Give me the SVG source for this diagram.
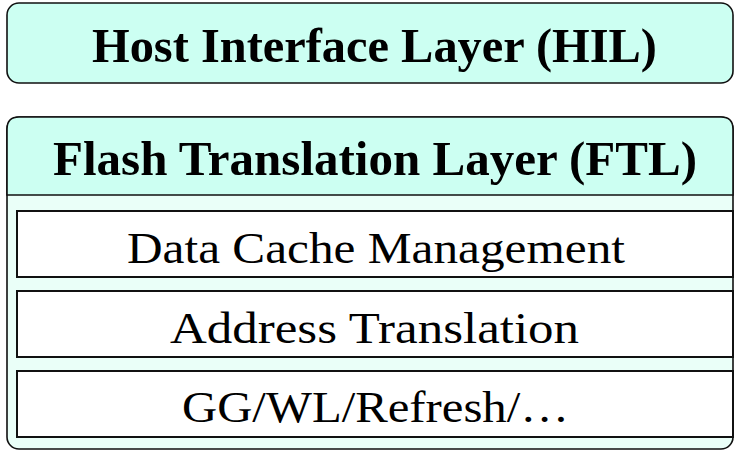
<svg xmlns="http://www.w3.org/2000/svg" width="734" height="451" viewBox="0 0 734 451">
  <style>
    .outer { stroke: #111; stroke-width: 1.6; }
    .inner { fill: #ffffff; stroke: #111; stroke-width: 2; }
    .title { font-family: "Liberation Serif", "Times New Roman", serif; font-weight: bold; font-size: 48px; fill: #000; }
    .label { font-family: "Liberation Serif", "Times New Roman", serif; font-size: 45px; fill: #000; }
  </style>
  <rect width="734" height="451" fill="#ffffff"/>
  <g id="hil">
    <rect class="outer" x="7" y="3" width="726" height="80" rx="12" ry="12" fill="#ccfff2"/>
    <text class="title" x="374.5" y="62" text-anchor="middle" textLength="565" lengthAdjust="spacingAndGlyphs">Host Interface Layer (HIL)</text>
  </g>
  <g id="ftl">
    <rect class="outer" x="7" y="117" width="726" height="332" rx="12" ry="12" fill="#eafff8"/>
    <path class="outer" d="M7,195 L7,129 Q7,117 19,117 L721,117 Q733,117 733,129 L733,195 Z" fill="#ccfff2"/>
    <text class="title" x="375" y="175" text-anchor="middle" textLength="644" lengthAdjust="spacingAndGlyphs">Flash Translation Layer (FTL)</text>
  </g>
  <g id="data-cache">
    <rect class="inner" x="17" y="211" width="716" height="66"/>
    <text class="label" x="376" y="262.5" text-anchor="middle" textLength="498" lengthAdjust="spacingAndGlyphs">Data Cache Management</text>
  </g>
  <g id="address-translation">
    <rect class="inner" x="17" y="291" width="716" height="66"/>
    <text class="label" x="374.5" y="342.5" text-anchor="middle" textLength="409" lengthAdjust="spacingAndGlyphs">Address Translation</text>
  </g>
  <g id="gc-wl">
    <rect class="inner" x="17" y="371" width="716" height="66"/>
    <text class="label" x="375.5" y="421.5" text-anchor="middle" textLength="387" lengthAdjust="spacingAndGlyphs">GG/WL/Refresh/…</text>
  </g>
  <g id="connectors"></g>
</svg>
